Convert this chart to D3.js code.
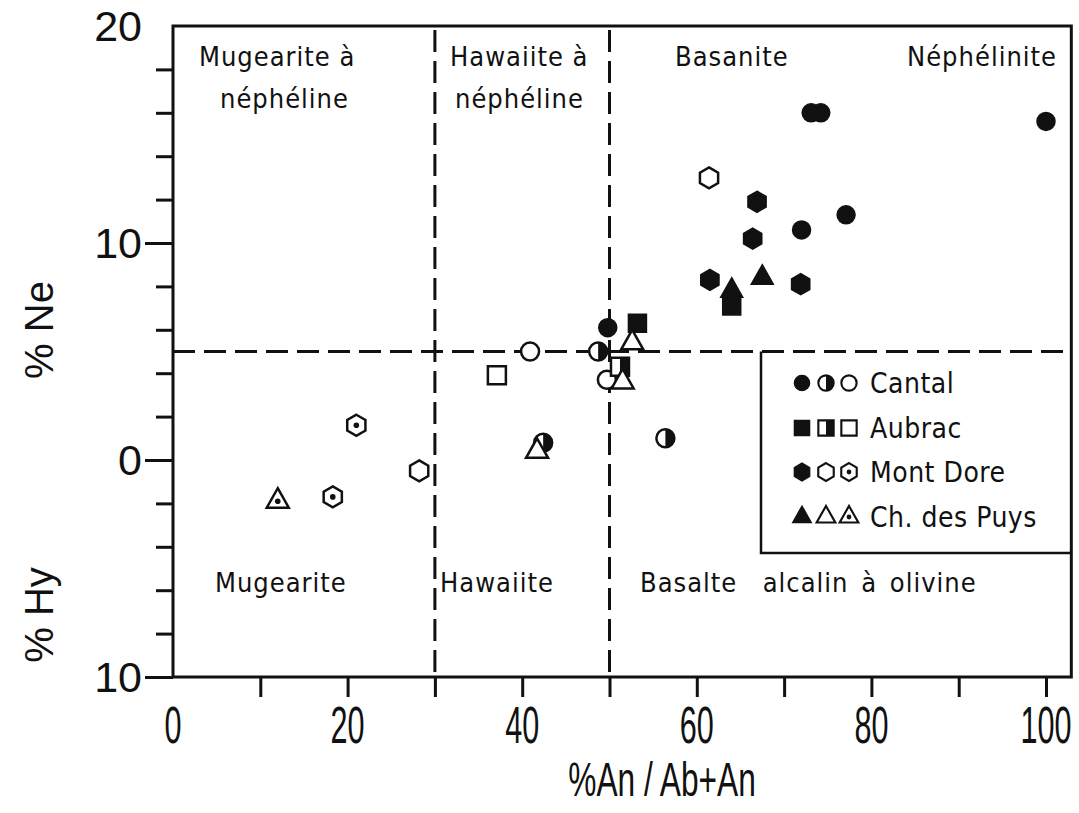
<!DOCTYPE html>
<html>
<head>
<meta charset="utf-8">
<script src="https://cdn.jsdelivr.net/npm/d3@7"></script>
<style>
  body { margin: 0; background: #fff; }
  svg { display: block; }
</style>
</head>
<body>
<div id="chart"></div>
<script>
// values: [ %An/(Ab+An), %Ne (negative = %Hy) ]
const cantalFilled = [[73.1, 16.0], [74.2, 16.0], [100, 15.6], [77.1, 11.3], [72.0, 10.6], [49.8, 6.1]];
const cantalHalf = [[48.7, 5.0], [42.4, 0.8], [56.4, 1.0]];
const cantalOpen = [[40.9, 5.0], [49.7, 3.7]];
const aubracFilled = [[53.2, 6.3], [64.0, 7.1]];
const aubracHalf = [[51.2, 4.3]];
const aubracOpen = [[37.1, 3.9]];
const montDoreFilled = [[66.9, 11.9], [66.4, 10.2], [61.5, 8.3], [71.9, 8.1]];
const montDoreOpen = [[61.4, 13.0], [28.2, -0.5]];
const montDoreDot = [[21.0, 1.6], [18.3, -1.7]];
const puysFilled = [[67.5, 8.4], [64.0, 7.8]];
const puysOpen = [[52.6, 5.4], [51.5, 3.6], [41.7, 0.4]];
const puysDot = [[12.0, -1.9]];

const groupNames = ["Cantal", "Aubrac", "Mont Dore", "Ch. des Puys"];
const groupShapes = ["circle", "square", "hexagon", "triangle"];
const legendStyles = [["filled", "half", "open"], ["filled", "half", "open"], ["filled", "open", "dot"], ["filled", "open", "dot"]];

const xTickValues = [10, 20, 30, 40, 50, 60, 70, 80, 90, 100];
const xTickLabels = [0, 20, 40, 60, 80, 100];
const yTickValues = [18, 16, 14, 12, 10, 8, 6, 4, 2, 0, -2, -4, -6, -8];
const yTickLabels = [20, 10, 0, -10];
const boundariesX = [30, 50];
const boundaryY = 5;

const topLabels = ["Mugearite à", "néphéline", "Hawaiite à", "néphéline", "Basanite", "Néphélinite"];
const bottomLabels = ["Mugearite", "Hawaiite", "Basalte  alcalin à olivine"];

const ink = "#111";
const W = 1079, H = 813;
const frameXMax = 102.9;

const svg = d3.select("#chart").append("svg")
    .attr("width", W)
    .attr("height", H);

const defs = svg.append("defs");
defs.append("clipPath").attr("id", "rightHalf")
    .append("rect").attr("x", 0).attr("y", -20).attr("width", 20).attr("height", 40);

const x = d3.scaleLinear().domain([0, 100]).range([173, 1046]);
const y = d3.scaleLinear().domain([-10, 20]).range([677, 26]);

// x ticks (down from the frame)
svg.append("g")
    .attr("transform", "translate(0," + y(-10) + ")")
    .call(d3.axisBottom(x).tickValues(xTickValues).tickSize(20).tickFormat(""))
    .call(g => g.select(".domain").remove())
    .call(g => g.selectAll("line").attr("stroke", ink).attr("stroke-width", 3));

// x tick labels, narrow lettering
svg.append("g")
    .selectAll("text")
    .data(xTickLabels)
    .enter().append("text")
    .attr("transform", d => "translate(" + x(d) + ",743) scale(0.6,1)")
    .attr("text-anchor", "middle")
    .attr("fill", ink)
    .style("font-family", "'Liberation Sans', Arial, sans-serif")
    .style("font-size", "51px")
    .text(d => d);

// y ticks, long at multiples of 10
svg.append("g")
    .attr("transform", "translate(" + x(0) + ",0)")
    .call(d3.axisLeft(y).tickValues(yTickValues.concat([-10])).tickSize(17).tickFormat(""))
    .call(g => g.select(".domain").remove())
    .call(g => g.selectAll("line")
        .attr("stroke", ink).attr("stroke-width", 3)
        .attr("x2", d => d % 10 === 0 ? -28 : -17));

// y tick labels (absolute values: Ne above, Hy below)
svg.append("g")
    .selectAll("text")
    .data(yTickLabels)
    .enter().append("text")
    .attr("x", 142)
    .attr("y", d => y(d))
    .attr("dy", "0.36em")
    .attr("text-anchor", "end")
    .attr("fill", ink)
    .style("font-family", "'Liberation Sans', Arial, sans-serif")
    .style("font-size", "43px")
    .text(d => Math.abs(d));

// frame
svg.append("rect")
    .attr("x", x(0))
    .attr("y", y(20))
    .attr("width", x(frameXMax) - x(0))
    .attr("height", y(-10) - y(20))
    .attr("fill", "none")
    .attr("stroke", ink)
    .attr("stroke-width", 3);

// field boundaries
svg.selectAll(".vbound")
    .data(boundariesX)
    .enter().append("line")
    .attr("class", "vbound")
    .attr("x1", d => x(d)).attr("x2", d => x(d))
    .attr("y1", y(20) + 4).attr("y2", y(-10))
    .attr("stroke", ink).attr("stroke-width", 3)
    .attr("stroke-dasharray", "22,9");

svg.append("line")
    .attr("x1", x(0)).attr("x2", x(frameXMax))
    .attr("y1", y(boundaryY)).attr("y2", y(boundaryY))
    .attr("stroke", ink).attr("stroke-width", 3)
    .attr("stroke-dasharray", "22,9");

// legend box
const legendLeft = 761, legendBottom = 553;
svg.append("path")
    .attr("d", "M" + legendLeft + "," + y(boundaryY) + "V" + legendBottom + "H" + x(frameXMax))
    .attr("fill", "none")
    .attr("stroke", ink)
    .attr("stroke-width", 2.5);

// field names
const labelFont = "'DejaVu Sans Condensed', 'Liberation Sans Narrow', sans-serif";
const topPos = [[199, 66, "start"], [220, 108, "start"], [450, 66, "start"], [455, 108, "start"], [675, 66, "start"], [1057, 66, "end"]];
const bottomPos = [[215, 592], [440, 592], [640, 592]];

svg.append("g").selectAll("text")
    .data(topLabels)
    .enter().append("text")
    .attr("x", (d, i) => topPos[i][0])
    .attr("y", (d, i) => topPos[i][1])
    .attr("text-anchor", (d, i) => topPos[i][2])
    .attr("fill", ink)
    .style("font-family", labelFont)
    .style("font-size", "27px")
    .style("letter-spacing", "1px")
    .text(d => d);

svg.append("g").selectAll("text")
    .data(bottomLabels)
    .enter().append("text")
    .attr("x", (d, i) => bottomPos[i][0])
    .attr("y", (d, i) => bottomPos[i][1])
    .attr("fill", ink)
    .style("font-family", labelFont)
    .style("font-size", "27px")
    .style("letter-spacing", "1px")
    .style("word-spacing", "4px")
    .style("white-space", "pre")
    .text(d => d);

// axis titles
function rotatedTitle(text, cy) {
    svg.append("text")
        .attr("transform", "translate(53," + cy + ") rotate(-90)")
        .attr("text-anchor", "middle")
        .attr("fill", ink)
        .style("font-family", "'Liberation Sans', Arial, sans-serif")
        .style("font-size", "40px")
        .text(text);
}
rotatedTitle("% Ne", 330);
rotatedTitle("% Hy", 615);

svg.append("text")
    .attr("transform", "translate(662,796) scale(0.66,1)")
    .attr("text-anchor", "middle")
    .attr("fill", ink)
    .style("font-family", "'Liberation Sans', Arial, sans-serif")
    .style("font-size", "48px")
    .text("%An / Ab+An");

// marker shapes
function shapePath(shape) {
    if (shape === "circle") return "M-9,0A9,9 0 1,0 9,0A9,9 0 1,0 -9,0Z";
    if (shape === "square") return "M-9,-9H9V9H-9Z";
    if (shape === "hexagon") {
        const pts = d3.range(6).map(i => {
            const a = Math.PI / 3 * i - Math.PI / 2;
            return [10.5 * Math.cos(a), 10.5 * Math.sin(a)];
        });
        return "M" + pts.join("L") + "Z";
    }
    // triangle, centred on centroid
    return "M0,-13L11,6.5L-11,6.5Z";
}

function drawMarker(g, shape, style) {
    const p = shapePath(shape);
    if (style === "filled") {
        g.append("path").attr("d", p).attr("fill", ink).attr("stroke", ink).attr("stroke-width", 1.5);
        return;
    }
    g.append("path").attr("d", p).attr("fill", "#fff").attr("stroke", ink).attr("stroke-width", 2.5);
    if (style === "half") {
        g.append("path").attr("d", p).attr("fill", ink).attr("clip-path", "url(#rightHalf)");
    }
    if (style === "dot") {
        g.append("circle").attr("r", 2.8).attr("fill", ink);
    }
}

const series = [
    { data: cantalOpen, shape: "circle", style: "open" },
    { data: cantalHalf, shape: "circle", style: "half" },
    { data: cantalFilled, shape: "circle", style: "filled" },
    { data: aubracOpen, shape: "square", style: "open" },
    { data: aubracHalf, shape: "square", style: "half" },
    { data: aubracFilled, shape: "square", style: "filled" },
    { data: montDoreOpen, shape: "hexagon", style: "open" },
    { data: montDoreDot, shape: "hexagon", style: "dot" },
    { data: montDoreFilled, shape: "hexagon", style: "filled" },
    { data: puysOpen, shape: "triangle", style: "open" },
    { data: puysDot, shape: "triangle", style: "dot" },
    { data: puysFilled, shape: "triangle", style: "filled" }
];

series.forEach(s => {
    svg.append("g").selectAll("g")
        .data(s.data)
        .enter().append("g")
        .attr("transform", d => "translate(" + x(d[0]) + "," + y(d[1]) + ")")
        .each(function () { drawMarker(d3.select(this), s.shape, s.style); });
});

// legend entries
const legendRowY = [383, 428, 472, 517];
const legendSymX = [802, 826, 849];
groupNames.forEach((name, i) => {
    legendStyles[i].forEach((st, j) => {
        const g = svg.append("g")
            .attr("transform", "translate(" + legendSymX[j] + "," + legendRowY[i] + ") scale(0.85)");
        drawMarker(g, groupShapes[i], st);
    });
    svg.append("text")
        .attr("x", 870)
        .attr("y", legendRowY[i])
        .attr("dy", "0.36em")
        .attr("fill", ink)
        .style("font-family", labelFont)
        .style("font-size", "28px")
        .style("letter-spacing", "0.5px")
        .text(name);
});
</script>
</body>
</html>
